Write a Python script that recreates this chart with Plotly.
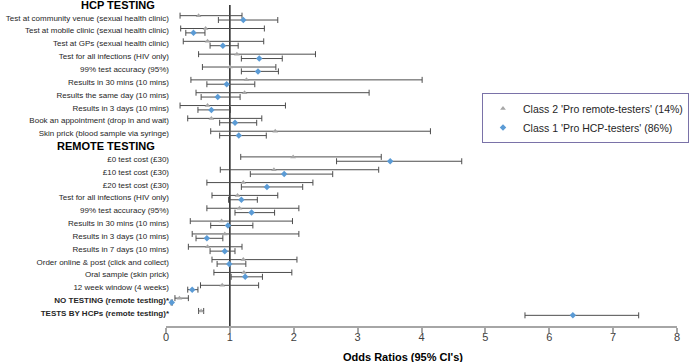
import plotly.graph_objects as go

# ---------------- data ----------------
hcp_labels = [
    "Test at community venue (sexual health clinic)",
    "Test at mobile clinic (sexual health clinic)",
    "Test at GPs (sexual health clinic)",
    "Test for all infections (HIV only)",
    "99% test accuracy (95%)",
    "Results in 30 mins (10 mins)",
    "Results the same day (10 mins)",
    "Results in 3 days (10 mins)",
    "Book an appointment (drop in and wait)",
    "Skin prick (blood sample via syringe)",
]
remote_labels = [
    "£0 test cost (£30)",
    "£10 test cost (£30)",
    "£20 test cost (£30)",
    "Test for all infections (HIV only)",
    "99% test accuracy (95%)",
    "Results in 30 mins (10 mins)",
    "Results in 3 days (10 mins)",
    "Results in 7 days (10 mins)",
    "Order online & post (click and collect)",
    "Oral sample (skin prick)",
    "12 week window (4 weeks)",
]
special_labels = [
    "NO TESTING (remote testing)*",
    "TESTS BY HCPs (remote testing)*",
]
section_headers = ["HCP TESTING", "REMOTE TESTING"]

class2_name = "Class 2 'Pro remote-testers' (14%)"
class1_name = "Class 1 'Pro HCP-testers' (86%)"

class2_or = [0.51, 0.62, 0.65, 1.11, 1.00, 1.26, 1.23, 0.65, 0.71, 1.71,
             1.99, 1.69, 1.21, 1.12, 1.15, 0.87, 0.92, 0.65, 1.21, 1.22, 0.88,
             0.21, 0.55]
class2_lo = [0.22, 0.23, 0.27, 0.51, 0.57, 0.39, 0.47, 0.22, 0.34, 0.70,
             1.17, 0.85, 0.64, 0.72, 0.64, 0.38, 0.41, 0.35, 0.72, 0.75, 0.54,
             0.14, 0.51]
class2_hi = [1.19, 1.54, 1.53, 2.34, 1.72, 4.01, 3.18, 1.87, 1.50, 4.14,
             3.37, 3.33, 2.30, 1.75, 2.08, 1.98, 2.08, 1.19, 2.05, 1.97, 1.45,
             0.35, 0.59]

class1_or = [1.21, 0.43, 0.89, 1.46, 1.44, 0.95, 0.81, 0.71, 1.08, 1.14,
             3.51, 1.85, 1.58, 1.18, 1.34, 0.97, 0.64, 0.92, 0.99, 1.24, 0.41,
             0.09, 6.37]
class1_lo = [0.82, 0.31, 0.69, 1.18, 1.18, 0.64, 0.55, 0.50, 0.84, 0.84,
             2.67, 1.32, 1.18, 0.98, 1.08, 0.70, 0.47, 0.69, 0.80, 1.02, 0.34,
             0.08, 5.62]
class1_hi = [1.75, 0.61, 1.13, 1.82, 1.76, 1.39, 1.16, 1.01, 1.42, 1.57,
             4.63, 2.61, 2.14, 1.43, 1.70, 1.36, 0.89, 1.08, 1.25, 1.51, 0.50,
             0.10, 7.40]

x_ticks = [0, 1, 2, 3, 4, 5, 6, 7, 8]
x_title = "Odds Ratios (95% CI's)"

# ---------------- layout of rows ----------------
hcp_header_row = 0
hcp_rows = list(range(1, 1 + len(hcp_labels)))
remote_header_row = hcp_rows[-1] + 1
remote_rows = list(range(remote_header_row + 1, remote_header_row + 1 + len(remote_labels)))
special_rows = list(range(remote_rows[-1] + 1, remote_rows[-1] + 1 + len(special_labels)))
rows = hcp_rows + remote_rows + special_rows
tick_text = hcp_labels + remote_labels + ["<b>%s</b>" % s for s in special_labels]
n_rows = special_rows[-1] + 1

off = 0.17
y2 = [r - off for r in rows]
y1 = [r + off for r in rows]

font_family = "Liberation Sans, Arial, sans-serif"
text_col = "#262626"
err_col = "#4d4d4d"

L, R, T, B = 166, 15, 5, 36
W, H = 692, 362
PW, PH = W - L - R, H - T - B

fig = go.Figure()
fig.add_trace(go.Scatter(
    x=class2_or, y=y2, mode="markers", name=class2_name,
    marker=dict(symbol="triangle-up", size=5, color="#a6a6a6"),
    error_x=dict(type="data", symmetric=False,
                 array=[h - p for h, p in zip(class2_hi, class2_or)],
                 arrayminus=[p - l for p, l in zip(class2_or, class2_lo)],
                 color=err_col, thickness=1, width=3),
))
fig.add_trace(go.Scatter(
    x=class1_or, y=y1, mode="markers", name=class1_name,
    marker=dict(symbol="diamond", size=5, color="#5b9bd5"),
    error_x=dict(type="data", symmetric=False,
                 array=[h - p for h, p in zip(class1_hi, class1_or)],
                 arrayminus=[p - l for p, l in zip(class1_or, class1_lo)],
                 color=err_col, thickness=1, width=3),
))

fig.add_shape(type="line", xref="x", yref="y", x0=1, x1=1, y0=0, y1=n_rows,
              line=dict(color="#000000", width=1.3), layer="below")

for hdr, r in zip(section_headers, [hcp_header_row, remote_header_row]):
    fig.add_annotation(text="<b>%s</b>" % hdr, xref="paper", yref="y", x=0, y=r,
                       xanchor="right", yanchor="middle", xshift=-9, showarrow=False,
                       font=dict(family=font_family, size=11, color="#000000"))

fig.add_annotation(text="<b>%s</b>" % x_title, xref="paper", yref="paper",
                   x=(403 - L) / PW, y=1 - (356.5 - T) / PH,
                   xanchor="center", yanchor="middle", showarrow=False,
                   font=dict(family=font_family, size=11, color="#000000"))

fig.update_layout(
    width=W, height=H, autosize=False,
    margin=dict(l=L, r=R, t=T, b=B, autoexpand=False),
    paper_bgcolor="white", plot_bgcolor="white",
    font=dict(family=font_family, color=text_col),
    showlegend=True,
    legend=dict(x=(482 - L) / PW, y=1 - (93 - T) / PH, xanchor="left", yanchor="top",
                bordercolor="#7a72a8", borderwidth=1, bgcolor="white",
                font=dict(family=font_family, size=10.5, color=text_col),
                itemwidth=30, tracegroupgap=0),
    xaxis=dict(range=[0, 8], tickvals=x_ticks, showgrid=False, zeroline=False,
               showline=True, linecolor="#a6a6a6", linewidth=2, automargin=False,
               ticks="outside", ticklen=5, tickcolor="#a6a6a6", tickwidth=1.5,
               ticklabelstandoff=-5,
               tickfont=dict(family=font_family, size=11, color="#404040")),
    yaxis=dict(range=[n_rows, 0], tickvals=rows, ticktext=tick_text, automargin=False,
               showgrid=False, zeroline=False, showline=False, ticks="",
               ticklabelstandoff=-4,
               tickfont=dict(family=font_family, size=8, color=text_col)),
)

fig.write_html("out.html", config={"displayModeBar": False},
               post_script="document.body.style.margin='0';")
